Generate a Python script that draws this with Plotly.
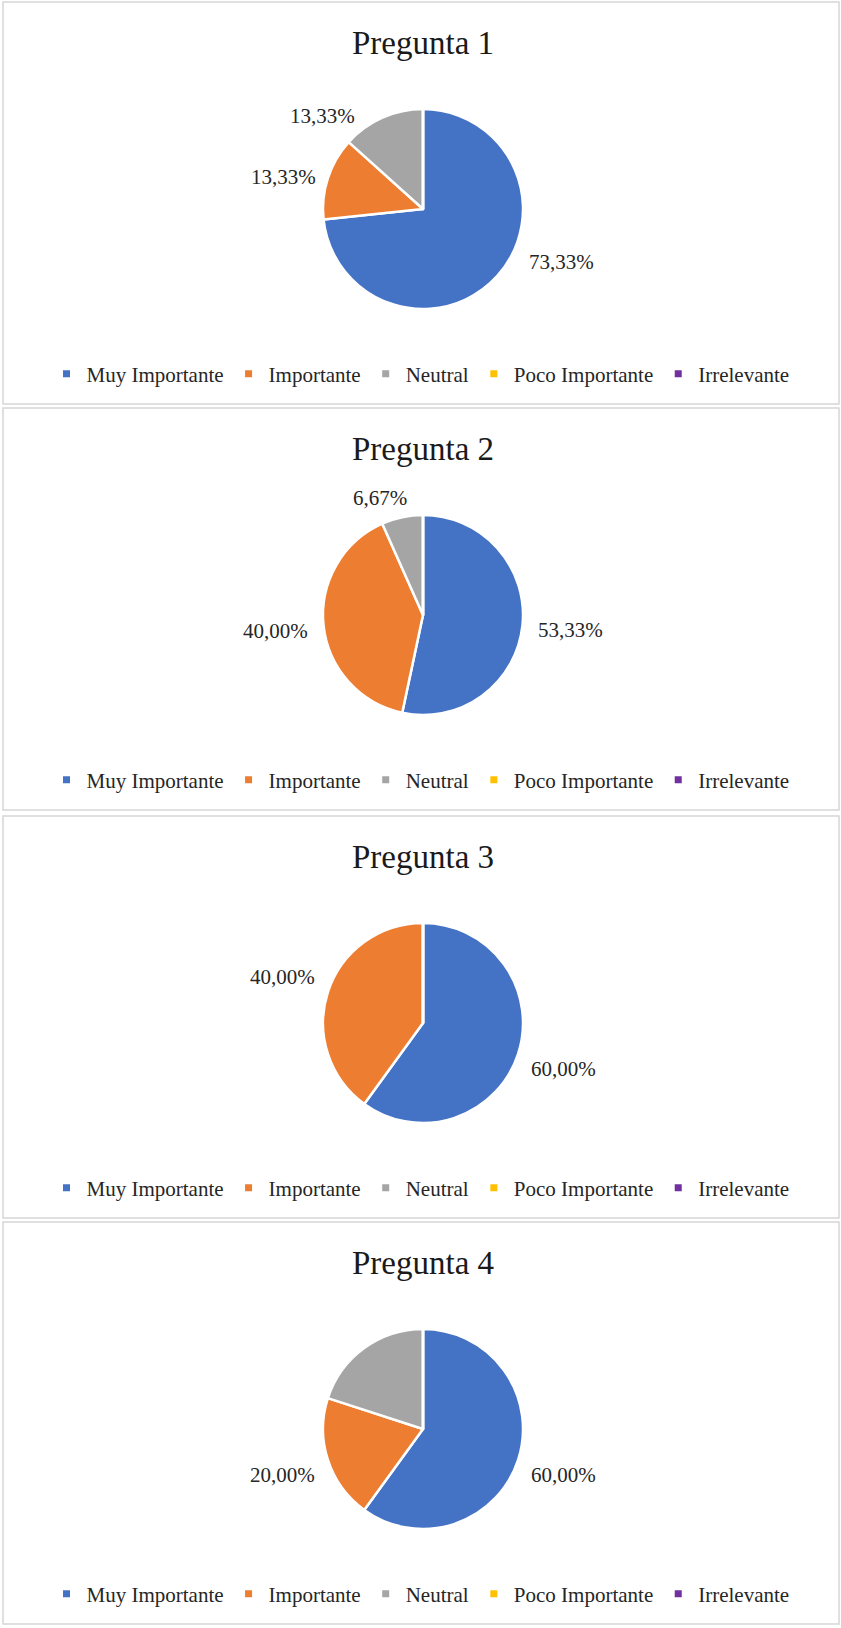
import math
import plotly.graph_objects as go

# ---- data -------------------------------------------------------------
categories = ["Muy Importante", "Importante", "Neutral", "Poco Importante", "Irrelevante"]
questions = ["Pregunta 1", "Pregunta 2", "Pregunta 3", "Pregunta 4"]

pregunta_1 = [73.33, 13.33, 13.33, 0.0, 0.0]
pregunta_2 = [53.33, 40.00, 6.67, 0.0, 0.0]
pregunta_3 = [60.00, 40.00, 0.0, 0.0, 0.0]
pregunta_4 = [60.00, 20.00, 20.00, 0.0, 0.0]
series = [pregunta_1, pregunta_2, pregunta_3, pregunta_4]

# slices whose percentage is printed next to the pie (per question)
labelled = [[0, 1, 2], [0, 1, 2], [0, 1], [0, 1]]

# ---- style / layout ---------------------------------------------------
colors = ["#4472C4", "#ED7D31", "#A5A5A5", "#FFC000", "#7030A0"]
FONT = "Liberation Serif, Times New Roman, serif"
W, H = 841, 1628
PANEL_LEFT, PANEL_RIGHT = 3, 839
PANEL_TOPS = [2, 408, 816, 1222]
PANEL_H = 402
TITLE_DY, PIE_DY, LEGEND_DY = 41, 207, 372
PIE_CX, PIE_R = 423, 100
LABEL_R = 148
# hand-tuned label placement (angle in degrees clockwise from 12 o'clock)
label_angle = {(0, 0): 111, (0, 1): 283, (0, 2): 313, (1, 2): 340}
label_radius = {(0, 1): 143, (0, 2): 137, (1, 2): 125}


def fmt(v):
    return f"{v:.2f}".replace(".", ",") + "%"


fig = go.Figure()
shapes, annotations = [], []
legend_names = ["legend", "legend2", "legend3", "legend4"]
layout_legends = {}

for q, (title, values) in enumerate(zip(questions, series)):
    top = PANEL_TOPS[q]
    cy = top + PIE_DY

    # panel frame
    shapes.append(dict(type="rect", xref="paper", yref="paper",
                       x0=PANEL_LEFT / W, x1=PANEL_RIGHT / W,
                       y0=1 - (top + PANEL_H) / H, y1=1 - top / H,
                       line=dict(color="#d6d6d6", width=1.5),
                       fillcolor="rgba(0,0,0,0)", layer="below"))

    # pie
    fig.add_trace(go.Pie(
        labels=categories, values=values, sort=False, direction="clockwise",
        marker=dict(colors=colors, line=dict(color="white", width=2.5)),
        textinfo="none", hoverinfo="skip", showlegend=False,
        domain=dict(x=[(PIE_CX - PIE_R) / W, (PIE_CX + PIE_R) / W],
                    y=[1 - (cy + PIE_R) / H, 1 - (cy - PIE_R) / H]),
    ))

    # title
    annotations.append(dict(text=title, xref="paper", yref="paper",
                            x=PIE_CX / W, y=1 - (top + TITLE_DY) / H,
                            xanchor="center", yanchor="middle", showarrow=False,
                            font=dict(family=FONT, size=33, color="#1a1a1a")))

    # percentage labels placed outside the slices
    total = sum(values)
    start = 0.0
    for i, v in enumerate(values):
        mid = (start + v / 2) / total * 360.0
        start += v
        if i not in labelled[q] or v == 0:
            continue
        ang = math.radians(label_angle.get((q, i), mid))
        rr = label_radius.get((q, i), LABEL_R)
        px = PIE_CX + rr * math.sin(ang)
        py = cy - rr * math.cos(ang)
        annotations.append(dict(text=fmt(v), xref="paper", yref="paper",
                                x=px / W, y=1 - py / H,
                                xanchor="center", yanchor="middle", showarrow=False,
                                font=dict(family=FONT, size=21, color="#262626")))

    # legend entries (small squares, one legend per panel)
    lg = legend_names[q]
    for name, col in zip(categories, colors):
        fig.add_trace(go.Scatter(x=[None], y=[None], mode="markers", name=name,
                                 marker=dict(symbol="square", size=7, color=col),
                                 legend=lg, showlegend=True, hoverinfo="skip"))
    layout_legends[lg] = dict(orientation="h", x=0.5, xanchor="center",
                              y=1 - (top + LEGEND_DY) / H, yanchor="middle",
                              bgcolor="rgba(0,0,0,0)", itemclick=False,
                              itemdoubleclick=False, tracegroupgap=0,
                              font=dict(family=FONT, size=21, color="#262626"))

fig.update_layout(
    width=W, height=H, margin=dict(l=0, r=0, t=0, b=0),
    paper_bgcolor="white", plot_bgcolor="white",
    xaxis=dict(visible=False), yaxis=dict(visible=False),
    shapes=shapes, annotations=annotations, **layout_legends,
)

fig.write_html("out.html")
